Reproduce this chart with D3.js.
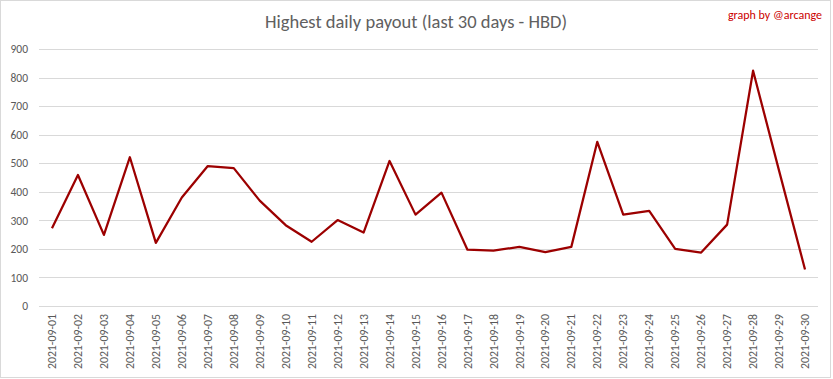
<!DOCTYPE html>
<html><head><meta charset="utf-8">
<script src="https://cdn.jsdelivr.net/npm/d3@7"></script>
<style>html,body{margin:0;padding:0;background:#fff;}svg{display:block;}</style>
</head><body>
<script>
const dates = ["2021-09-01","2021-09-02","2021-09-03","2021-09-04","2021-09-05","2021-09-06","2021-09-07","2021-09-08","2021-09-09","2021-09-10","2021-09-11","2021-09-12","2021-09-13","2021-09-14","2021-09-15","2021-09-16","2021-09-17","2021-09-18","2021-09-19","2021-09-20","2021-09-21","2021-09-22","2021-09-23","2021-09-24","2021-09-25","2021-09-26","2021-09-27","2021-09-28","2021-09-29","2021-09-30"];
const payouts = [272,459,249,521,221,380,490,483,369,283,225,301,257,508,320,397,197,194,207,189,207,575,320,333,200,187,285,824,474,128];
const yTicks = [0,100,200,300,400,500,600,700,800,900];
const titleText = "Highest daily payout (last 30 days - HBD)";
const creditText = "graph by @arcange";

const W = 833, H = 379;
const svg = d3.select("body").append("svg").attr("width", W).attr("height", H);
svg.append("rect").attr("x",0.5).attr("y",0.5).attr("width",830).attr("height",377)
  .attr("fill","#fff").attr("stroke","#d9d9d9");

const x = d3.scaleBand().domain(dates).range([39, 818]);
const y = d3.scaleLinear().domain([0, 900]).range([306, 49]);
const font = "Carlito, 'Liberation Sans', Arial, sans-serif";

// gridlines
svg.append("g").selectAll("line").data(yTicks).join("line")
  .attr("x1", 39).attr("x2", 818)
  .attr("y1", d => Math.round(y(d)) + 0.5).attr("y2", d => Math.round(y(d)) + 0.5)
  .attr("stroke", "#d9d9d9").attr("stroke-width", 1);

// y axis labels
const yAxis = d3.axisLeft(y).tickValues(yTicks).tickSize(0).tickPadding(0);
const gy = svg.append("g").attr("transform", "translate(28,0)").call(yAxis);
gy.select(".domain").remove();
gy.selectAll("text").attr("fill", "#595959").style("font-family", font).style("font-size", "11.5px");

// x axis labels
const xAxis = d3.axisBottom(x).tickSize(0).tickPadding(0);
const gx = svg.append("g").attr("transform", "translate(0,314)").call(xAxis);
gx.select(".domain").remove();
gx.selectAll("text")
  .attr("transform", "rotate(-90)")
  .attr("x", 0).attr("y", 0).attr("dy", "0.35em")
  .attr("text-anchor", "end")
  .attr("fill", "#595959").style("font-family", font).style("font-size", "11.8px");

// line
const line = d3.line().x((d, i) => x(dates[i]) + x.bandwidth() / 2).y(d => y(d));
svg.append("path").datum(payouts).attr("d", line)
  .attr("fill", "none").attr("stroke", "#9c0000").attr("stroke-width", 2.25)
  .attr("stroke-linejoin", "round");

// title
svg.append("text").attr("x", 416).attr("y", 28).attr("text-anchor", "middle")
  .attr("fill", "#606060").style("font-family", font).style("font-size", "18.5px")
  .text(titleText);
svg.append("text").attr("x", 822).attr("y", 19).attr("text-anchor", "end")
  .attr("fill", "#cc0000").style("font-family", font).style("font-size", "12px")
  .text(creditText);
</script>
</body></html>
